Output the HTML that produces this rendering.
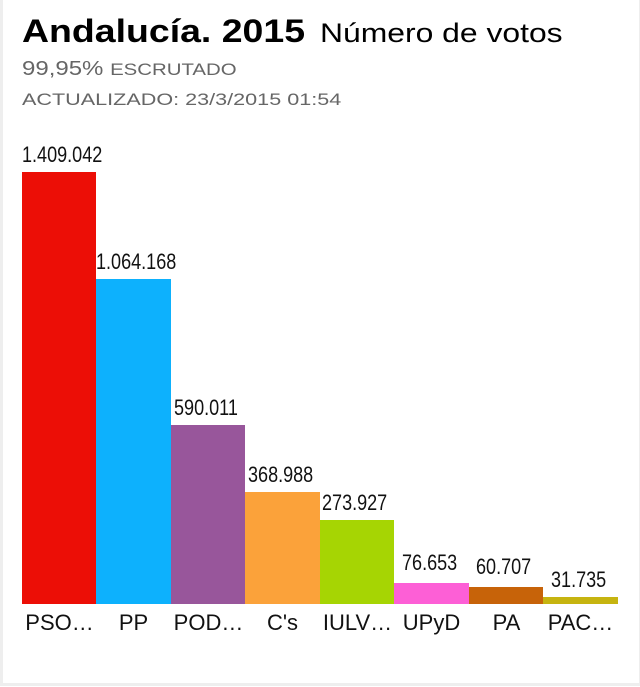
<!DOCTYPE html><html><head><style>
body{margin:0;width:640px;height:687px;background:#fff;position:relative;overflow:hidden;font-family:"Liberation Sans",sans-serif}
.frame{position:absolute;left:0;top:0;width:636px;height:683px;border-left:3px solid #eee;border-bottom:3px solid #eee;border-right:1px solid #eee}
.t{position:absolute;white-space:nowrap;transform-origin:left top}
.b{position:absolute}
.v{position:absolute;font-size:22px;color:#111;white-space:nowrap;transform:scaleX(0.82);transform-origin:left top}
.l{position:absolute;top:610px;font-size:22px;width:75px;text-align:center;color:#111}
</style></head><body><div class="frame"></div>
<div class="t" style="left:22px;top:13px;font-size:32px;font-weight:bold;color:#000;transform:scaleX(1.17)">Andalucía. 2015</div>
<div class="t" style="left:320px;top:18px;font-size:27px;color:#000;transform:scaleX(1.18)">Número de votos</div>
<div class="t" style="left:22px;top:58px;font-size:20px;color:#666;transform:scaleX(1.2)">99,95% <span style="font-size:17px">ESCRUTADO</span></div>
<div class="t" style="left:22px;top:90px;font-size:17px;color:#666;transform:scaleX(1.27)">ACTUALIZADO: 23/3/2015 01:54</div>
<div class="b" style="left:22px;top:172px;width:74px;height:432px;background:#ec0e06"></div>
<div class="b" style="left:96px;top:279px;width:75px;height:325px;background:#0db1fd"></div>
<div class="b" style="left:171px;top:425px;width:74px;height:179px;background:#98569b"></div>
<div class="b" style="left:245px;top:492px;width:75px;height:112px;background:#fba23a"></div>
<div class="b" style="left:320px;top:520px;width:74px;height:84px;background:#a6d503"></div>
<div class="b" style="left:394px;top:583px;width:75px;height:21px;background:#fd5fd6"></div>
<div class="b" style="left:469px;top:587px;width:74px;height:17px;background:#c76309"></div>
<div class="b" style="left:543px;top:597px;width:75px;height:7px;background:#c6b410"></div>
<div class="v" style="left:22px;top:142px">1.409.042</div>
<div class="v" style="left:96px;top:249px">1.064.168</div>
<div class="v" style="left:174px;top:395px">590.011</div>
<div class="v" style="left:248px;top:462px">368.988</div>
<div class="v" style="left:322px;top:490px">273.927</div>
<div class="v" style="left:402px;top:550px">76.653</div>
<div class="v" style="left:476px;top:554px">60.707</div>
<div class="v" style="left:551px;top:567px">31.735</div>
<div class="l" style="left:22px">PSO…</div>
<div class="l" style="left:96px">PP</div>
<div class="l" style="left:171px">POD…</div>
<div class="l" style="left:245px">C's</div>
<div class="l" style="left:320px">IULV…</div>
<div class="l" style="left:394px">UPyD</div>
<div class="l" style="left:469px">PA</div>
<div class="l" style="left:543px">PAC…</div>
</body></html>
